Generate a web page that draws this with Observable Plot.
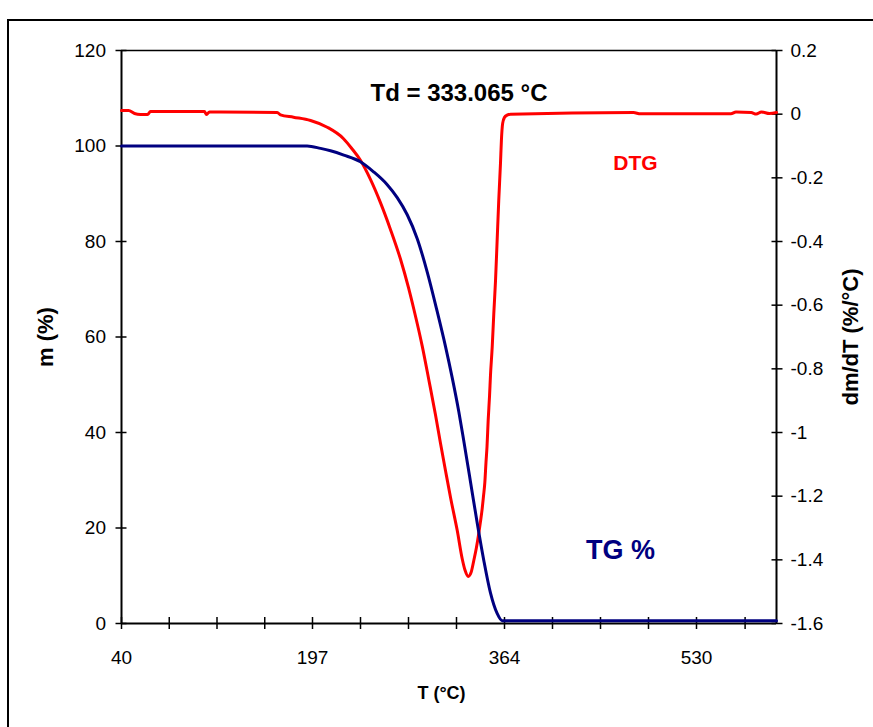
<!DOCTYPE html>
<html>
<head>
<meta charset="utf-8">
<script src="https://cdn.jsdelivr.net/npm/d3@7"></script>
<script src="https://cdn.jsdelivr.net/npm/@observablehq/plot@0.6"></script>
<style>
  html, body { margin: 0; padding: 0; background: #fff; overflow: hidden; }
  #wrap { position: relative; width: 873px; height: 727px; }
  #border { position: absolute; left: 7px; top: 19px; width: 1000px; height: 1000px;
            border: 2px solid #000; pointer-events: none; z-index: 2; }
</style>
</head>
<body>
<div id="wrap"><div id="border"></div></div>
<script>
// ---- data ----
const tgTemp = [40, 192.6, 204.0, 212.7, 224.2, 238.7, 250.1, 262.0, 270.7, 279.4, 288.1, 296.8, 305.5, 312.7, 318.5, 324.3, 328.6, 332.1, 334.4, 340.3, 346.0, 351.8, 357.6, 362.0, 598.3];
const tgMass = [100, 100, 99.5, 99.0, 98.1, 96.7, 94.6, 91.9, 89.2, 85.6, 80.6, 73.6, 65.3, 58.0, 51.5, 44.3, 38.2, 33.1, 29.7, 21.0, 13.2, 6.4, 2.1, 0.6, 0.6];

const dtgTemp = [40, 45.8, 50.7, 55.6, 61.4, 63.8, 108.2, 109.9, 112.3, 168.0, 170.7, 181.4, 195.4, 209.8, 224.0, 231.0, 238.7, 247.4, 256.1, 264.8, 273.5, 280.5, 285.1, 292.4, 298.2, 304.0, 308.4, 312.7, 317.1, 322.9, 327.3, 329.7, 332.5, 334.9, 337.3, 339.6, 341.6, 343.1, 344.6, 345.7, 346.9, 347.9, 348.8, 349.8, 351.0, 351.8, 353.3, 354.7, 356.2, 357.6, 359.0, 360.5, 361.3, 362.4, 364.0, 366.3, 369.2, 475.5, 481.6, 559.4, 563.7, 576.7, 581.0, 585.4, 592.3, 598.3];
const dtgRate = [0.0115, 0.0115, 0.002, -0.001, -0.001, 0.008, 0.008, -0.001, 0.007, 0.005, -0.002, -0.0095, -0.020, -0.041, -0.077, -0.107, -0.145, -0.205, -0.278, -0.362, -0.455, -0.545, -0.612, -0.728, -0.835, -0.945, -1.035, -1.120, -1.205, -1.308, -1.398, -1.433, -1.452, -1.440, -1.402, -1.361, -1.317, -1.280, -1.239, -1.201, -1.157, -1.094, -1.044, -0.962, -0.884, -0.821, -0.732, -0.626, -0.522, -0.397, -0.271, -0.155, -0.083, -0.029, -0.010, -0.003, 0.000, 0.005, 0.001, 0.001, 0.007, 0.005, 0.0005, 0.007, 0.002, 0.005];

const massTicks = [0, 20, 40, 60, 80, 100, 120];
const rateTicks = [0.2, 0, -0.2, -0.4, -0.6, -0.8, -1, -1.2, -1.4, -1.6];
const tempLabels = [40, 197, 364, 530];
const tempMinorTicks = [40, 79.25, 118.5, 157.75, 197, 238.75, 280.5, 322.25, 364, 405.5, 447, 488.5, 530, 571.5];

const tgData = tgTemp.map((T, i) => ({T, m: tgMass[i]}));
const dtgData = dtgTemp.map((T, i) => ({T, r: dtgRate[i]}));

// secondary axis mapping (rate -> mass scale)
const rMin = -1.6, rMax = 0.2, mMax = 120;
const toM = r => (r - rMin) / (rMax - rMin) * mMax;
const fromM = m => m / mMax * (rMax - rMin) + rMin;
const fmtRate = m => String(Math.round(fromM(m) * 10) / 10);

const font = "'Liberation Sans', Arial, sans-serif";

const chart = Plot.plot({
  width: 873, height: 727,
  marginLeft: 121, marginRight: 97, marginTop: 50, marginBottom: 104,
  style: {fontFamily: font, fontSize: "19px", color: "#000", background: "transparent", overflow: "visible"},
  x: {type: "linear", domain: [40, 197, 364, 530, 598.3], range: [121, 312, 504, 696, 776]},
  y: {domain: [0, 120], range: [623, 50]},
  marks: [
    Plot.ruleY([120], {stroke: "#000", strokeWidth: 1.5}),
    Plot.ruleY([0], {stroke: "#000", strokeWidth: 2}),
    Plot.ruleX([40], {stroke: "#000", strokeWidth: 2}),
    Plot.ruleX([598.3], {stroke: "#000", strokeWidth: 2}),
    Plot.axisY({anchor: "left", ticks: massTicks, tickSize: 11, dx: 5.5, tickPadding: 10,
                tickFormat: d => String(d), label: null, strokeWidth: 1.5, fontSize: 19}),
    Plot.axisY({anchor: "right", ticks: rateTicks.map(toM), tickSize: 11, dx: -5.5, tickPadding: 8.5,
                tickFormat: fmtRate, label: null, strokeWidth: 1.5, fontSize: 19}),
    Plot.axisX({ticks: tempMinorTicks, tickSize: 12, dy: -6, tickFormat: () => "", label: null, strokeWidth: 1.5}),
    Plot.axisX({ticks: tempLabels, tickSize: 0, tickPadding: 27, tickFormat: d => String(d), label: null, fontSize: 19}),
    Plot.line(dtgData, {x: "T", y: d => toM(d.r), stroke: "#ff0000", strokeWidth: 3, curve: "monotone-x"}),
    Plot.line(tgData, {x: "T", y: "m", stroke: "#000080", strokeWidth: 3, curve: "monotone-x"}),
    Plot.text(["Td = 333.065 °C"], {frameAnchor: "top", dx: 10, dy: 33, fontSize: 24, fontWeight: "bold", fill: "#000", textAnchor: "middle"}),
    Plot.text(["DTG"], {frameAnchor: "top-right", dx: -141, dy: 105, fontSize: 21, fontWeight: "bold", fill: "#ff0000", textAnchor: "middle"}),
    Plot.text(["TG %"], {frameAnchor: "bottom-right", dx: -156, dy: -65, fontSize: 27, fontWeight: "bold", fill: "#000080", textAnchor: "middle"}),
    Plot.text(["m (%)"], {frameAnchor: "left", dx: -76, rotate: -90, fontSize: 22, fontWeight: "bold", fill: "#000", textAnchor: "middle"}),
    Plot.text(["dm/dT (%/°C)"], {frameAnchor: "right", dx: 74, rotate: -90, fontSize: 22, fontWeight: "bold", fill: "#000", textAnchor: "middle"}),
    Plot.text(["T (°C)"], {frameAnchor: "bottom", dx: -7.5, dy: 75, fontSize: 18, fontWeight: "bold", fill: "#000", textAnchor: "middle"})
  ]
});
document.getElementById("wrap").appendChild(chart);
</script>
</body>
</html>
